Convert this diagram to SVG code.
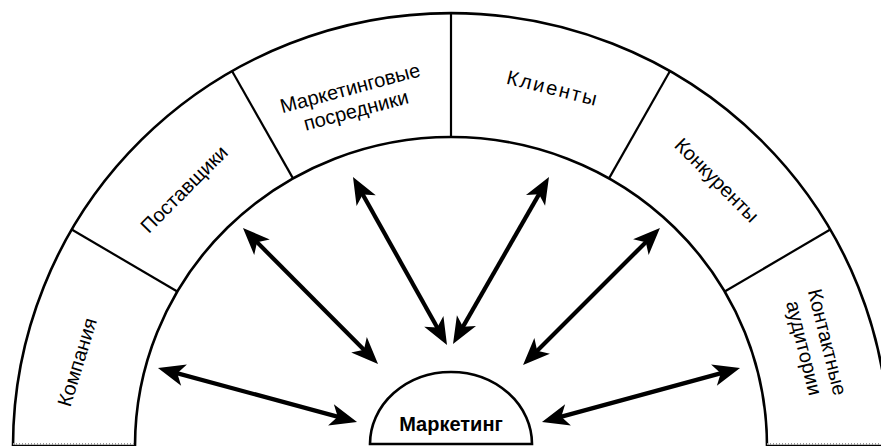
<svg xmlns="http://www.w3.org/2000/svg" width="881" height="446" viewBox="0 0 881 446">
  <defs>
    <style>
      .band { fill: #ffffff; stroke: #000; stroke-width: 2.6; }
      .div { stroke: #000; stroke-width: 2.2; fill: none; }
      .arrow { stroke: #000; stroke-width: 4.2; fill: none; marker-start: url(#head); marker-end: url(#head); }
      .lbl { font-family: "Liberation Sans", Arial, sans-serif; font-size: 20px; fill: #000; text-anchor: middle; dominant-baseline: central; }
      .core { font-family: "Liberation Sans", Arial, sans-serif; font-size: 20px; font-weight: bold; fill: #000; text-anchor: middle; }
      .base { stroke: #9a9a9a; stroke-width: 2; stroke-dasharray: 1 2; fill: none; }
    </style>
    <!-- barbed arrowhead; tip sits 8px beyond the line end -->
    <marker id="head" markerUnits="userSpaceOnUse" markerWidth="40" markerHeight="30" refX="0" refY="0" orient="auto-start-reverse" overflow="visible">
      <path d="M8,0 L-19,-11 L-12,0 L-19,11 Z" fill="#000"/>
    </marker>
  </defs>

  <rect width="881" height="446" fill="#ffffff"/>

  <!-- outer band: half ring round centre (451,446) -->
  <g id="band">
    <path class="band" d="M13,446 A438,433 0 0 1 889,446 L767,446 A316,309 0 0 0 135,446 Z"/>
    <path class="base" d="M13,444 L135,444 M767,444 L881,444"/>
  </g>

  <!-- segment dividers at 30° steps -->
  <g id="dividers">
    <line class="div" x1="71.7" y1="229.5" x2="177.3" y2="291.5"/>
    <line class="div" x1="232" y1="71" x2="293" y2="178.4"/>
    <line class="div" x1="451" y1="13" x2="451" y2="137"/>
    <line class="div" x1="670" y1="71" x2="609" y2="178.4"/>
    <line class="div" x1="830.3" y1="229.5" x2="724.7" y2="291.5"/>
  </g>

  <g id="node-kompaniya">
    <text class="lbl" transform="translate(77,362) rotate(-73)">Компания</text>
  </g>
  <g id="node-postavshchiki">
    <text class="lbl" transform="translate(184,189) rotate(-45)">Поставщики</text>
  </g>
  <g id="node-posredniki">
    <g transform="translate(353,99) rotate(-15)">
      <text class="lbl" x="0" y="-11.5">Маркетинговые</text>
      <text class="lbl" x="0" y="11.5">посредники</text>
    </g>
  </g>
  <g id="node-klienty">
    <text class="lbl" transform="translate(553,88) rotate(14)" letter-spacing="2">Клиенты</text>
  </g>
  <g id="node-konkurenty">
    <text class="lbl" transform="translate(717,180) rotate(45)">Конкуренты</text>
  </g>
  <g id="node-auditorii">
    <g transform="translate(816,345) rotate(76)">
      <text class="lbl" x="0" y="-12">Контактные</text>
      <text class="lbl" x="0" y="12">аудитории</text>
    </g>
  </g>

  <!-- centre half-disc -->
  <g id="node-marketing">
    <path class="band" d="M370,444 A81,72 0 0 1 532,444 Z"/>
    <text class="core" x="451" y="431">Маркетинг</text>
  </g>

  <!-- two-way links between the centre and each segment -->
  <g id="connectors">
    <line class="arrow" x1="165.7" y1="370.1" x2="349.3" y2="419.9"/>
    <line class="arrow" x1="248.6" y1="233.7" x2="372.4" y2="358.3"/>
    <line class="arrow" x1="356.9" y1="184" x2="443.1" y2="338"/>
    <line class="arrow" x1="545" y1="183.9" x2="457" y2="337.1"/>
    <line class="arrow" x1="654.3" y1="233.7" x2="528.7" y2="359.3"/>
    <line class="arrow" x1="549.7" y1="419.9" x2="732.3" y2="370.1"/>
  </g>
</svg>
